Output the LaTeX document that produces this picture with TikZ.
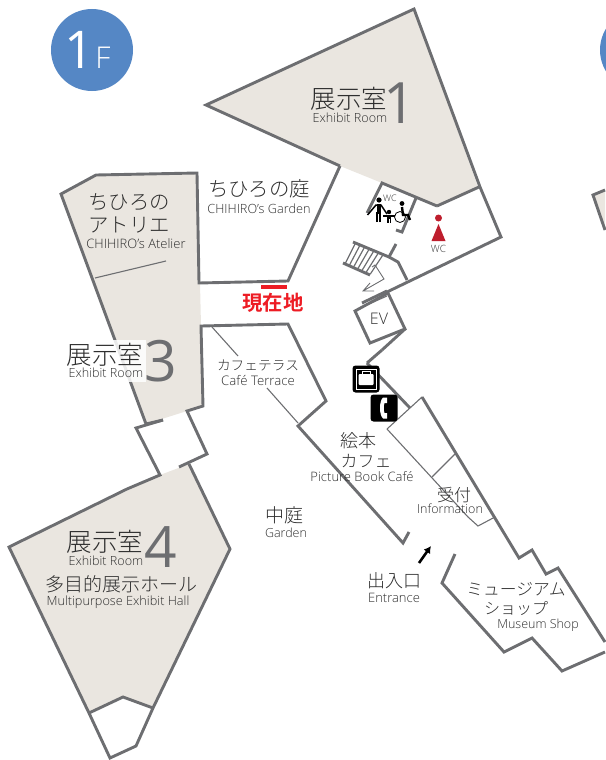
\documentclass[tikz,border=0pt]{standalone}
\usepackage{fontspec}
\usetikzlibrary{arrows.meta}
\setmainfont{Open Sans}[UprightFont={* Light}]
\newfontfamily\reg{Open Sans}
\newfontfamily\cjk{Noto Sans CJK JP}[UprightFont={* Light},BoldFont={* Bold}]
\newcommand{\fs}[1]{\fontsize{#1}{#1}\selectfont}
\definecolor{wall}{HTML}{6D6E71}
\definecolor{room}{HTML}{EAE6E0}
\definecolor{ink}{HTML}{2E2E2E}
\definecolor{bluec}{HTML}{5587C5}
\definecolor{redt}{HTML}{ED1C24}
\definecolor{redw}{HTML}{BE1E2D}
\tikzset{
  wallline/.style={draw=wall,line width=2.9pt,line join=miter},
  thinline/.style={draw=wall,line width=1.1pt},
  roomfill/.style={fill=room,draw=none},
  lbl/.style={inner sep=0pt,text=ink,anchor=center,align=center},
  icon/.style={fill=black,rounded corners=3pt,draw=none},
}
\begin{document}
\begin{tikzpicture}[x=1pt,y=-1pt]
\useasboundingbox (0,0) rectangle (605,760);
% circles
\fill[bluec] (92,50) circle (41);
\fill[bluec] (641,50) circle (41);
\node[lbl,text=white] (floorA) at (79,50) {\fs{52}\reg 1};
\node[lbl,text=white] (floorB) at (103,58) {\fs{30}F};
% room fills
\path[roomfill] (414,9)--(478,187)--(437,206)--(382,183)--(340,166)--(206,105)--cycle;
\path[roomfill] (61,194)--(96,175)--(197,173)--(200,283)--(201,326)--(203,406)--(187,411)--(146,424)--cycle;
\path[roomfill] (160,475)--(189,464)--(230,549)--(153,708)--(123,697)--(89,713)--(9,547)--cycle;
\path[roomfill] (593,195)--(605,190)--(605,230)--cycle;
% walls
\draw[wallline] (340,166)--(206,105)--(414,9)--(480,187)--(501,237)--(387,292);
\draw[wallline] (437,206)--(479,187);
\draw[wallline] (437,206)--(382,183)--(367,213);
\draw[wallline] (416,198)--(402,232)--(396,230);
\draw[wallline] (340,166)--(288,281)--(199,283)--(197,173)--(96,175)--(61,194)--(146,424)--(163,420);
\draw[wallline] (163,420)--(136,428)--(160,475)--(127,489)--(9,547)--(89,713)--(110,758)--(136,746)--(153,708)--(230,549)--(189,464);
\draw[wallline] (179,467)--(207,454)--(187,411)--(203,406)--(201,326)--(288,324)--(326,401)--(298,426)--(403,543)--(409,532);
\draw[wallline] (89,713)--(123,697)--(153,708);
\draw[wallline] (605,190)--(593,195)--(605,230);
% east wing
\draw[wallline] (367,363)--(410,408);
\draw[wallline] (422,397)--(519,558)--(532,550)--(546,574)--(558,568)--(605,642);
\draw[thinline] (387,429)--(422,397);
\draw[wallline] (605,652)--(562,671)--(532,638)--(504,652)--(442,583)--(455,554);
\draw[wallline] (382,350)--(367,363);
\draw[wallline] (355,311)--(388,293)--(405,329)--(370,343)--cycle;
\draw[wallline] (405,329)--(382,350);
\draw[wallline] (362,303)--(387,291);
\draw[thinline] (369,304)--(387,296);
% stairs
\draw[wallline] (353,242)--(389,257)--(398,262)--(407,280);
\draw[wallline] (396,244)--(389,257);
\draw[wallline] (343,263)--(370,275);
\foreach \i in {0,...,6} {
  \draw[thinline,line width=1.2pt] ({355+\i*4.6},{244+\i*1.9})--({345+\i*4.2},{264+\i*1.7});
}
% thin room lines
\draw[thinline] (95,278)--(166,261);
\draw[thinline] (212,327)--(238,356);
\draw[thinline] (267,388)--(298,423);
\draw[thinline] (387,429)--(468,517)--(478,526)--(495,517);
\draw[thinline] (455,454)--(432,477);
% stairs arrow
\draw[thinline,line width=.9pt] (372,267)--(375,265)--(384,279)--(363,291) (370,283)--(363,291)--(374,291);
% mask behind exhibit room 3
\fill[white,opacity=.85] (65,340) rectangle (146,382);
% entrance arrow
\coordinate (arrS) at (419,563);
\coordinate (arrE) at (431,546);
\draw[line width=2.6pt,black,-{Latex[length=7pt,width=8pt]}] (arrS)--(arrE);
% current location
\fill[redt] (261,285) rectangle (287,289);
% red WC
\fill[redw] (438.5,218) circle (3.5);
\fill[redw] (438.5,224)--(431.5,241)--(445.5,241)--cycle;
% accessible WC icon
\fill[black] (379,200) circle (2.6);
\draw[black,line width=4pt] (378.5,204)--(378.5,214);
\draw[black,line width=1.4pt] (377,222)--(377,212) (380,222)--(380,212);
\draw[black,line width=1.5pt] (367.5,215)--(376,205)--(381,205)--(387,214);
\fill[black] (389,212) circle (2.2);
\draw[black,line width=3.5pt] (389,215)--(389,219);
\draw[black,line width=1.2pt] (383,216)--(395,216) (388,218)--(388,222.5) (390.5,218)--(390.5,222.5);
\fill[black] (402,203.5) circle (2.4);
\draw[black,line width=.8pt] (400,217) circle (5.5);
\draw[black,line width=2.4pt] (402,207)--(403,215)--(408,215)--(410,220);
% info icons
\path[icon] (352.5,365.5) rectangle (379.5,392.5);
\draw[white,line width=.7pt] (356,369) rectangle (376,389);
\fill[white,rounded corners=1pt] (358.5,374) rectangle (373.5,385);
\draw[white,line width=.8pt] (362,374)--(362,371.5)--(370,371.5)--(370,374);
\path[icon] (370.5,394.5) rectangle (397.5,421.5);
\fill[white] (383,397.5) .. controls (379,401) and (379,415) .. (383,418.5) -- (387,418.5) -- (387,413) -- (384.5,413) .. controls (383.5,410) and (383.5,406) .. (384.5,403) -- (387,403) -- (387,397.5) -- cycle;
% labels
\node[lbl] (r1a) at (349,99) {\fs{25.5}\cjk 展示室};
\node[lbl,text=wall] (r1b) at (400,103) {\fs{57}\reg 1};
\node[lbl] (r1c) at (350,118) {\fs{12.6}Exhibit Room};
\node[lbl] (atA) at (129,202) {\fs{20.4}\cjk ちひろの};
\node[lbl] (atB) at (129,225) {\fs{20.4}\cjk アトリエ};
\node[lbl] (atC) at (136,244) {\fs{13}CHIHIRO's Atelier};
\node[lbl] (gaA) at (259,189) {\fs{20.4}\cjk ちひろの庭};
\node[lbl] (gaB) at (259,209) {\fs{12.7}CHIHIRO's Garden};
\node[lbl,text=redt] (here) at (273,303) {\fs{20.4}\cjk\bfseries 現在地};
\node[lbl] (r3a) at (105,355) {\fs{25.5}\cjk 展示室};
\node[lbl,text=wall] (r3b) at (160.5,361) {\fs{57}\reg 3};
\node[lbl] (r3c) at (106,373) {\fs{12.6}Exhibit Room};
\node[lbl] (r4a) at (105,542) {\fs{25.5}\cjk 展示室};
\node[lbl,text=wall] (r4b) at (161,547) {\fs{57}\reg 4};
\node[lbl] (r4c) at (106,561) {\fs{12.6}Exhibit Room};
\node[lbl] (r4d) at (121,584) {\fs{19}\cjk 多目的展示ホール};
\node[lbl] (r4e) at (118,602.5) {\fs{12.7}Multipurpose Exhibit Hall};
\node[lbl] (cfA) at (258,365) {\fs{13.7}\cjk カフェテラス};
\node[lbl] (cfB) at (258,381) {\fs{13.2}Café Terrace};
\node[lbl] (ev) at (379,319) {\fs{16}EV};
\node[lbl] (wcA) at (390,198) {\fs{9}WC};
\node[lbl] (wcB) at (438.5,249) {\fs{10}WC};
\node[lbl] (bkA) at (358,441) {\fs{18}\cjk 絵本};
\node[lbl] (bkB) at (366,461) {\fs{17}\cjk カフェ};
\node[lbl] (bkC) at (362,477) {\fs{13}Picture Book Café};
\node[lbl] (inA) at (454,495) {\fs{17}\cjk 受付};
\node[lbl] (inB) at (450,509) {\fs{12.5}Information};
\node[lbl] (chA) at (284,515) {\fs{19}\cjk 中庭};
\node[lbl] (chB) at (286,533) {\fs{12.5}Garden};
\node[lbl] (enA) at (394,581) {\fs{18}\cjk 出入口};
\node[lbl] (enB) at (394,598) {\fs{13}Entrance};
\node[lbl] (shA) at (516,589) {\fs{16.8}\cjk ミュージアム};
\node[lbl] (shB) at (516,608) {\fs{16}\cjk ショップ};
\node[lbl] (shC) at (538,625) {\fs{12.5}Museum Shop};
\end{tikzpicture}
\end{document}
